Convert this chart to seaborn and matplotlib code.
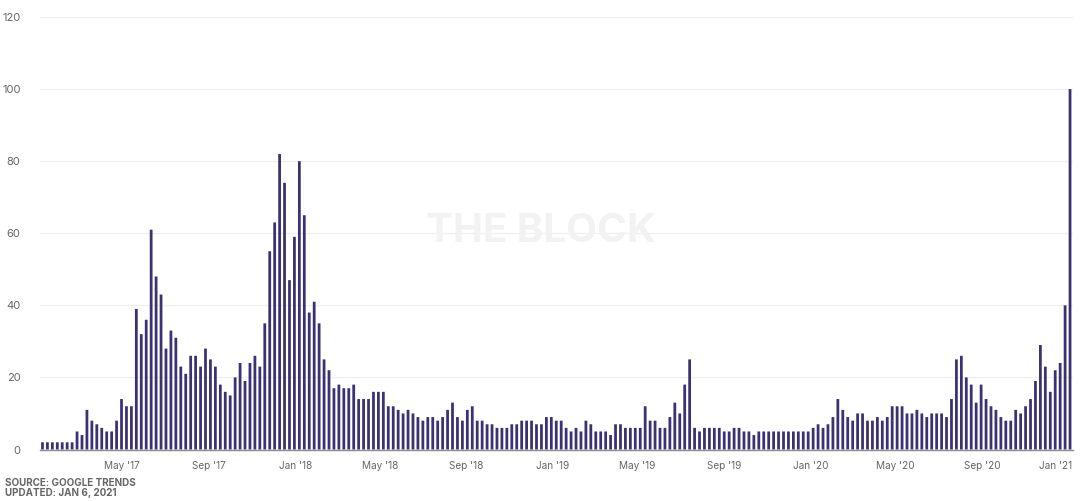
import pandas as pd
import seaborn as sns
import matplotlib.pyplot as plt

# weekly google trends values
first_weeks = "2017-01-08"
values_2017 = [2, 2, 2, 2, 2, 2, 2, 5, 4, 11, 8, 7, 6, 5, 5, 8, 14, 12, 12,
               39, 32, 36, 61, 48, 43, 28, 33, 31, 23, 21, 26, 26, 23, 28, 25, 23, 18, 16, 15,
               20, 24, 19, 24, 26, 23, 35, 55, 63, 82, 74, 47, 59]
values_2018 = [80, 65, 38, 41, 35, 25, 22, 17, 18, 17, 17, 18, 14, 14, 14, 16, 16, 16,
               12, 12, 11, 10, 11, 10, 9, 8, 9, 9, 8, 9, 11, 13, 9, 8, 11, 12,
               8, 8, 7, 7, 6, 6, 6, 7, 7, 8, 8, 8, 7, 7, 9, 9, 8, 8]
values_2019 = [6, 5, 6, 5, 8, 7, 5, 5, 5, 4, 7, 7, 6, 6, 6, 6, 12, 8, 8, 6, 6, 9, 13, 10, 18, 25,
               6, 5, 6, 6, 6, 6, 5, 5, 6, 6, 5, 5, 4, 5, 5, 5, 5, 5, 5, 5, 5, 5, 5, 5]
values_2020 = [6, 7, 6, 7, 9, 14, 11, 9, 8, 10, 10, 8, 8, 9, 8, 9, 12, 12, 12, 10, 10, 11, 10, 9,
               10, 10, 10, 9, 14, 25, 26, 20, 18, 13, 18, 14, 12, 11, 9, 8, 8, 11, 10, 12, 14, 19,
               29, 23, 16, 22, 24, 40, 100]
# last label sits left of its real date so it stays inside the plot
tick_dates = ["2017-05-01", "2017-09-01", "2018-01-01", "2018-05-01", "2018-09-01", "2019-01-01",
              "2019-05-01", "2019-09-01", "2020-01-01", "2020-05-01", "2020-09-01", "2020-12-14"]
tick_labels = ["May '17", "Sep '17", "Jan '18", "May '18", "Sep '18", "Jan '19",
               "May '19", "Sep '19", "Jan '20", "May '20", "Sep '20", "Jan '21"]
y_ticks = [0, 20, 40, 60, 80, 100, 120]

values = values_2017 + values_2018 + values_2019 + values_2020
weeks = pd.date_range(first_weeks, periods=len(values), freq="7D")
df = pd.DataFrame({"week": weeks.strftime("%Y-%m-%d"), "interest": values})

sns.set_theme(style="white")
plt.rcParams["font.family"] = ["Inter", "DejaVu Sans"]

fig = plt.figure(figsize=(10.8, 5.01), dpi=100)
ax = fig.add_axes([40 / 1080, 1 - 449.5 / 501, 1033 / 1080, 432.5 / 501])

sns.barplot(data=df, x="week", y="interest", color="#3c3172", saturation=1, width=0.56,
            linewidth=0, ax=ax, zorder=3)
# no pixel snapping, otherwise bar widths come out uneven
for bar in ax.patches:
    bar.set_snap(False)

ax.set_xlim(-0.5, 208.6)
ax.set_ylim(0, 120)
ax.set_xlabel("")
ax.set_ylabel("")

tick_pos = [(pd.Timestamp(d) - weeks[0]).days / 7 for d in tick_dates]
ax.set_xticks(tick_pos)
ax.set_xticklabels(tick_labels)
ax.set_yticks(y_ticks)
ax.tick_params(axis="x", length=0, pad=8, labelsize=7.2, labelcolor="#666666")
ax.tick_params(axis="y", length=0, pad=14, labelsize=8, labelcolor="#666666")

ax.grid(axis="y", color="#f0f0f2", linewidth=1)
ax.set_axisbelow(True)
sns.despine(ax=ax, left=True, top=True, right=True)
ax.spines["bottom"].set_color("#8a8a8a")
ax.spines["bottom"].set_linewidth(1)
ax.spines["bottom"].set_zorder(4)

# watermark
fig.text(541 / 1080, 1 - 231 / 501, "THE BLOCK", fontsize=29, fontweight="bold", color="#f2f2f2",
         ha="center", va="center", zorder=1)

fig.text(5 / 1080, 1 - 483 / 501, "SOURCE: GOOGLE TRENDS", fontsize=7.1, fontweight="bold", color="#666666", va="center")
fig.text(5 / 1080, 1 - 493.5 / 501, "UPDATED: JAN 6, 2021", fontsize=7.1, fontweight="bold", color="#666666", va="center")

fig.savefig("out.png", dpi=100)
